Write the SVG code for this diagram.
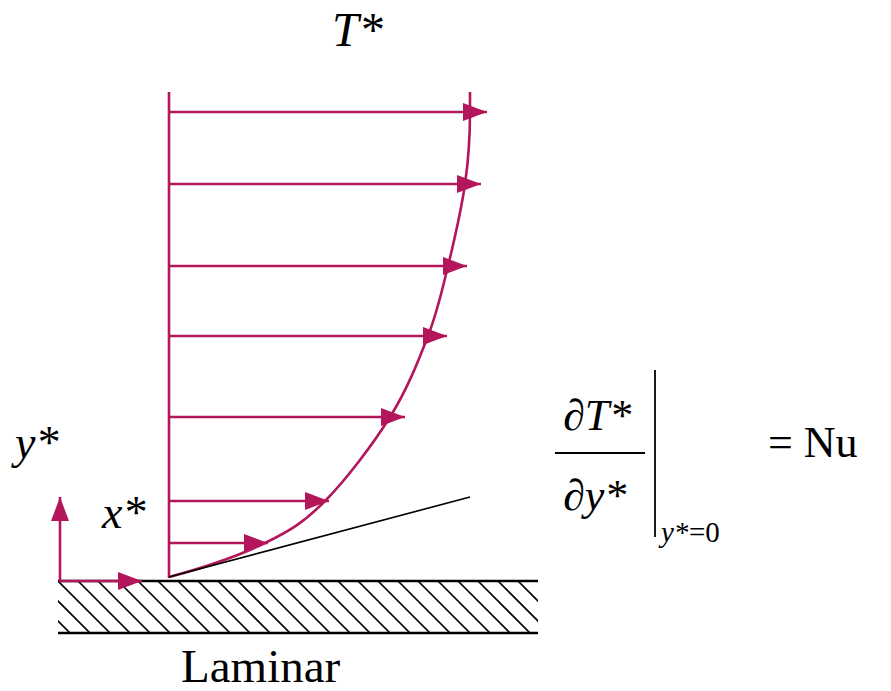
<svg xmlns="http://www.w3.org/2000/svg" width="891" height="691" viewBox="0 0 891 691">
<style>
.pk{stroke:#B3165A;stroke-width:2.6;fill:none}
.ar{marker-end:url(#ah)}
.bk{stroke:#000;fill:none}
.t{font-family:'Liberation Serif','Times New Roman',serif;fill:#000}
.i{font-style:italic}
</style>
<defs>
<marker id="ah" markerUnits="userSpaceOnUse" markerWidth="24" markerHeight="18" refX="24" refY="9" orient="auto">
<path d="M0,0 L24,9 L0,18 z" fill="#B3165A"/>
</marker>
<clipPath id="wc"><rect x="58" y="581" width="480" height="52"/></clipPath>
</defs>
<g id="wall">
<g clip-path="url(#wc)" stroke="#000" stroke-width="1.6">
<path d="M-2,581 l53,53 M18,581 l53,53 M38,581 l53,53 M58,581 l53,53 M78,581 l53,53 M98,581 l53,53 M118,581 l53,53 M138,581 l53,53 M158,581 l53,53 M178,581 l53,53 M198,581 l53,53 M218,581 l53,53 M238,581 l53,53 M258,581 l53,53 M278,581 l53,53 M298,581 l53,53 M318,581 l53,53 M338,581 l53,53 M358,581 l53,53 M378,581 l53,53 M398,581 l53,53 M418,581 l53,53 M438,581 l53,53 M458,581 l53,53 M478,581 l53,53 M498,581 l53,53 M518,581 l53,53"/>
</g>
<line class="bk" x1="58" y1="581" x2="538" y2="581" stroke-width="2.6"/>
<line class="bk" x1="58" y1="633" x2="538" y2="633" stroke-width="2.6"/>
</g>
<g id="profile">
<line class="pk" x1="169" y1="92" x2="169" y2="578"/>
<path class="pk" d="M169,577 C200,568.7 239,555.7 265,543 C291,530.3 304.2,522 325,501 C345.8,480 372.8,444.5 390,417 C407.2,389.5 418.3,361.2 428,336 C437.7,310.8 441.8,291.3 448,266 C454.2,240.7 461.3,209.7 465,184 C468.7,158.3 470,136 470,112 L470,92"/>
</g>
<g id="connectors">
<line class="pk ar" x1="169" y1="112" x2="487" y2="112"/>
<line class="pk ar" x1="169" y1="184" x2="481" y2="184"/>
<line class="pk ar" x1="169" y1="266" x2="467" y2="266"/>
<line class="pk ar" x1="169" y1="336" x2="447" y2="336"/>
<line class="pk ar" x1="169" y1="417" x2="405" y2="417"/>
<line class="pk ar" x1="169" y1="501" x2="329" y2="501"/>
<line class="pk ar" x1="169" y1="543" x2="268" y2="543"/>
<line class="pk ar" x1="60" y1="582" x2="60" y2="497"/>
<line class="pk ar" x1="59" y1="581" x2="142" y2="581"/>
<line class="bk" x1="169" y1="577" x2="470" y2="497" stroke-width="1.6"/>
</g>
<g id="labels" font-family="Liberation Serif, serif">
<text class="t i" x="332" y="46" font-size="48">T*</text>
<text class="t i" x="15" y="458" font-size="46">y*</text>
<text class="t i" x="102" y="528" font-size="46">x*</text>
<text class="t" x="181" y="682" font-size="47">Laminar</text>
</g>
<g id="formula" font-family="Liberation Serif, serif">
<text class="t" x="563" y="430" font-size="44">∂<tspan class="i">T*</tspan></text>
<line class="bk" x1="555" y1="453" x2="645" y2="453" stroke-width="1.8"/>
<text class="t" x="563" y="510" font-size="44">∂<tspan class="i">y*</tspan></text>
<line class="bk" x1="655" y1="370" x2="655" y2="537" stroke-width="1.8"/>
<text class="t i" x="661" y="542" font-size="29">y*</text>
<text class="t" x="689" y="542" font-size="29">=0</text>
<text class="t" x="768" y="457" font-size="44">= Nu</text>
</g>
</svg>
